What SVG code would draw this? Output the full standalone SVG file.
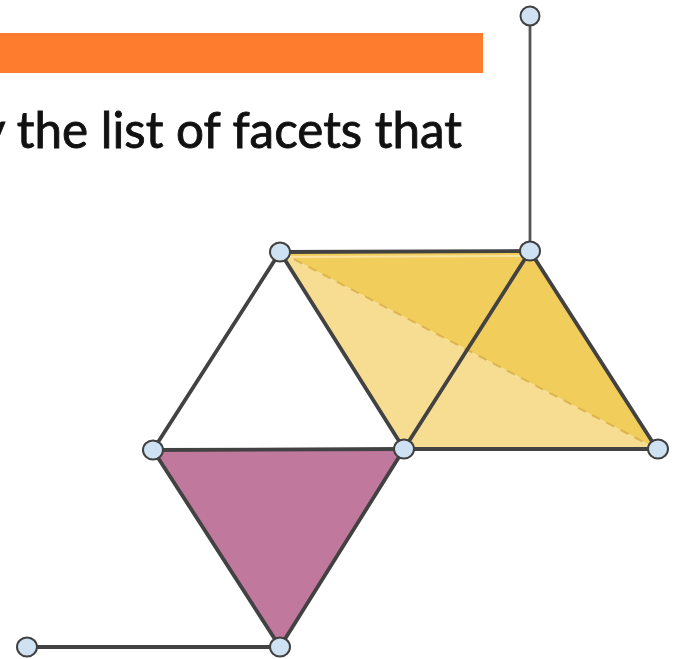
<svg xmlns="http://www.w3.org/2000/svg" width="677" height="659" viewBox="0 0 677 659">
<style>
.edge{stroke:#424242;stroke-width:3.8;stroke-linecap:round;fill:none}
.thin{stroke:#555555;stroke-width:2.8;fill:none}
.node{fill:#cfe2f3;stroke:#404040;stroke-width:2}
.caption{font-family:Lato,"Open Sans","Liberation Sans",sans-serif;font-size:50px;fill:#111111;stroke:#111111;stroke-width:0.9}
</style>
<rect x="0" y="33" width="483" height="40" fill="#fd7c2e"/>
<text class="caption" x="-20" y="148" textLength="482" lengthAdjust="spacingAndGlyphs">y the list of facets that</text>
<g id="faces">
<polygon points="280,252 530,251 657,449" fill="#f1cd5c"/>
<polygon points="280,252 657,449 404,449" fill="#f7dd92"/>
<polygon points="153,450 404,449 280,647" fill="#c0789d"/>
<line x1="284" y1="257" x2="526" y2="256" stroke="#f8e3a2" stroke-width="2"/>
<line x1="280" y1="252" x2="657" y2="449" stroke="#d6ad45" stroke-width="2" stroke-dasharray="9,7" opacity="0.8"/>
</g>
<g id="connectors">
<line class="thin" x1="530" y1="16" x2="530" y2="251"/>
<line class="edge" x1="280" y1="252" x2="530" y2="251"/>
<line class="edge" x1="280" y1="252" x2="404" y2="449"/>
<line class="edge" x1="280" y1="252" x2="153" y2="450"/>
<line class="edge" x1="530" y1="251" x2="404" y2="449"/>
<line class="edge" x1="530" y1="251" x2="657" y2="449"/>
<line class="edge" x1="404" y1="449" x2="657" y2="449"/>
<line class="edge" x1="153" y1="450" x2="404" y2="449"/>
<line class="edge" x1="153" y1="450" x2="280" y2="647"/>
<line class="edge" x1="404" y1="449" x2="280" y2="647"/>
<line class="edge" x1="27" y1="647" x2="280" y2="647"/>
</g>
<g id="n-top"><ellipse class="node" cx="530" cy="16" rx="9.5" ry="9.5"/></g>
<g id="n-a"><ellipse class="node" cx="280" cy="252" rx="10" ry="9.5"/></g>
<g id="n-b"><ellipse class="node" cx="530" cy="251" rx="10" ry="9.5"/></g>
<g id="n-c"><ellipse class="node" cx="404" cy="449" rx="10" ry="9.5"/></g>
<g id="n-d"><ellipse class="node" cx="658" cy="449" rx="10" ry="9.5"/></g>
<g id="n-e"><ellipse class="node" cx="153" cy="450" rx="10" ry="9.5"/></g>
<g id="n-f"><ellipse class="node" cx="280" cy="647" rx="10" ry="9.5"/></g>
<g id="n-g"><ellipse class="node" cx="27" cy="647" rx="10" ry="9.5"/></g>
</svg>
